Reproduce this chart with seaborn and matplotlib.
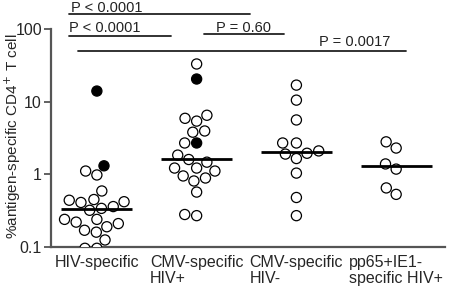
import numpy as np
import pandas as pd
import seaborn as sns
import matplotlib.pyplot as plt

sns.set_theme(style="ticks")
plt.rcParams["font.family"] = ["Liberation Sans", "DejaVu Sans"]

# values (% antigen-specific CD4+ T cells)
groups = ["HIV-specific", "CMV-specific\nHIV+", "CMV-specific\nHIV-", "pp65+IE1-\nspecific HIV+"]
hiv_open = [1.11, 0.98, 0.59, 0.45, 0.42, 0.41, 0.44, 0.36, 0.34, 0.32,
            0.22, 0.24, 0.24, 0.21, 0.19, 0.16, 0.17, 0.125, 0.096, 0.096]
hiv_filled = [14, 1.31]
cmvp_open = [33, 6.5, 5.9, 5.4, 3.95, 3.8, 2.7, 1.84, 1.6, 1.47,
             1.22, 1.22, 1.11, 0.95, 0.89, 0.81, 0.57, 0.28, 0.27]
cmvp_filled = [20.5, 2.7]
cmvn_open = [16.9, 10.5, 5.6, 2.7, 2.7, 2.1, 1.95, 1.9, 1.65, 1.04, 0.48, 0.27]
pp65_open = [2.8, 2.3, 1.39, 1.18, 0.65, 0.53]

p_labels = ["P < 0.0001", "P < 0.0001", "P = 0.60", "P = 0.0017"]

rows = []
for g, opn, fil in [(groups[0], hiv_open, hiv_filled), (groups[1], cmvp_open, cmvp_filled),
                    (groups[2], cmvn_open, []), (groups[3], pp65_open, [])]:
    rows += [(g, v, "open") for v in opn]
    rows += [(g, v, "filled") for v in fil]
df = pd.DataFrame(rows, columns=["group", "value", "kind"])

fig = plt.figure(figsize=(4.5, 2.91), dpi=100)
ax = fig.add_axes([0.1133, 0.1512, 0.8757, 0.8488])
ax.set_yscale("log")
ax.set_ylim(0.1, 10 ** 2.399)
ax.set_xlim(-0.46, 3.49)

sns.swarmplot(data=df, x="group", y="value", hue="kind", order=groups,
              palette={"open": "white", "filled": "black"}, size=7.3,
              edgecolor="black", linewidth=0.9, legend=False, ax=ax, zorder=3)
ax.set_xlim(-0.46, 3.49)
ax.set_ylim(0.1, 10 ** 2.399)

# median lines
for i, g in enumerate(groups):
    med = df.loc[df["group"] == g, "value"].median()
    ax.hlines(med, i - 0.355, i + 0.355, color="black", lw=2, zorder=4)

# significance bars
bars = [(-0.28, 1.53, 160.7), (-0.28, 0.74, 80), (1.07, 1.88, 85), (-0.19, 3.10, 50)]
text_pos = [(-0.26, 10 ** 2.385, "top"), (-0.28, 91, "baseline"),
            (1.19, 91, "baseline"), (2.23, 58, "baseline")]
for (x0, x1, y), (tx, ty, va), lab in zip(bars, text_pos, p_labels):
    ax.plot([x0, x1], [y, y], color="#222222", lw=1.3, clip_on=False)
    ax.text(tx, ty, lab, ha="left", va=va, fontsize=10.5, color="#222222")

ax.minorticks_off()
ax.set_yticks([0.1, 1, 10, 100])
ax.set_yticklabels(["0.1", "1", "10", "100"], fontsize=11.5)
ax.set_xticks(range(4))
ax.set_xticklabels(groups, fontsize=11.5, multialignment="left", linespacing=1.05)
ax.tick_params(axis="x", length=0, pad=6)
ax.tick_params(axis="y", length=5, width=1.3, color="#555555", pad=1.5)
for s in ["top", "right"]:
    ax.spines[s].set_visible(False)
for s in ["left", "bottom"]:
    ax.spines[s].set_color("#555555")
    ax.spines[s].set_linewidth(1.6)
ax.spines["left"].set_bounds(0.1, 100)
ax.set_xlabel("")
ax.set_ylabel("%antigen-specific CD4$^{+}$ T cell", fontsize=11)
ax.yaxis.set_label_coords(-0.07, 0.45)

fig.savefig("out.png", dpi=100)
